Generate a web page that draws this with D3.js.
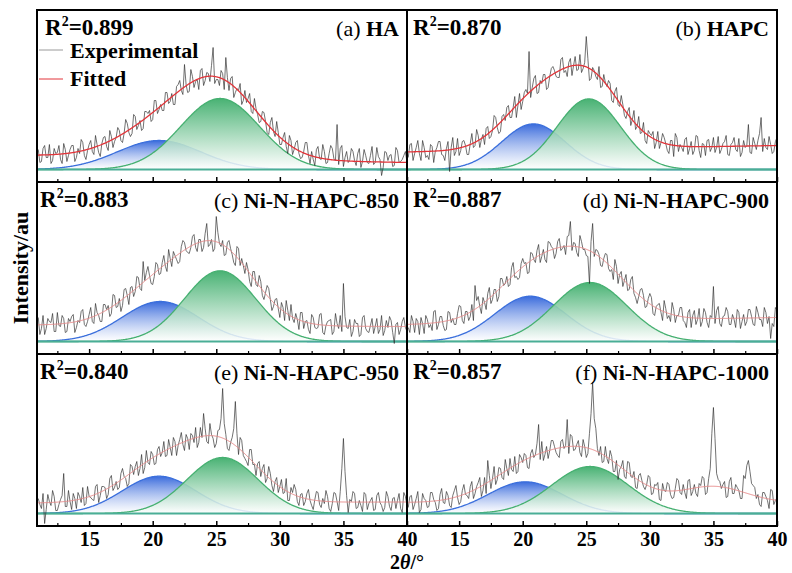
<!DOCTYPE html>
<html>
<head>
<meta charset="utf-8">
<script src="https://cdn.jsdelivr.net/npm/d3@7"></script>
<style>
  body { margin: 0; background: #fff; }
  svg text { font-family: "Liberation Serif", "Times New Roman", serif; font-weight: bold; fill: #000; }
</style>
</head>
<body>
<div id="viz"></div>
<script>
// panel labels
const panelLetters = ["a", "b", "c", "d", "e", "f"];
const sampleNames = ["HA", "HAPC", "Ni-N-HAPC-850", "Ni-N-HAPC-900", "Ni-N-HAPC-950", "Ni-N-HAPC-1000"];
const rSquared = ["0.899", "0.870", "0.883", "0.887", "0.840", "0.857"];

// x axis (the 10.9 end of the right column is unlabelled)
const xTicks = [15, 20, 25, 30, 35, 40];
const xMinorTicks = [12.5, 17.5, 22.5, 27.5, 32.5, 37.5];

// experimental patterns (a.u.): main points at 2theta = 11 + 0.25*k,
// half points in between at 11.125 + 0.25*k
const thetaStart = 11, thetaStep = 0.25;
const expHA = [20,8,24,12,6,21,17,10,26,8, 20,24,12,16,27,10,25,18,34,17, 26,33,19,33,28,42,29,36,46,33,
  55,40,49,41,58,59,50,69,60,59, 77,66,76,65,85,79,105,77,100,82, 90,99,84,97,88,122,90,84,96,112,
  79,93,77,79,65,79,71,58,71,55, 48,57,37,47,38,48,25,32,23,34, 15,27,16,12,27,14,18,4,23,10,
  18,7,24,11,45,21,3,18,10,18, 4,21,8,14,6,23,7,13,-6,18, 9,15,4,19,8,14,7];
const expHAHalf = [7,21,12,25,9,16,24,6,20,14, 24,8,21,30,14,19,29,15,25,13, 32,23,39,22,32,39,27,50,37,36,
  53,44,39,58,56,48,69,56,65,59, 77,68,65,83,89,75,85,78,93,88, 80,101,89,96,104,86,90,99,80,92,
  91,72,81,86,69,67,76,56,61,47, 58,48,35,52,33,37,25,37,16,29, 20,29,11,18,27,6,10,20,11,25,
  6,16,21,9,5,24,12,7,21,9, 16,2,20,7,14,5,22,10,2,17, 14,3,22,7,10,18];
const expHAPC = [12,26,16,29,9,22,14,25,7,22, 28,14,21,-2,32,18,14,28,24,15, 36,24,34,30,25,43,33,54,42,38,
  55,62,52,62,52,76,68,80,118,82, 94,77,86,95,82,101,99,92,110,97, 93,111,104,99,115,101,133,89,102,93,
  103,83,87,89,69,78,65,74,54,58, 44,59,43,36,47,26,36,38,27,21, 36,26,16,29,36,18,22,30,15,28,
  19,33,12,25,29,18,32,22,16,26, 34,14,27,20,31,17,22,45,16,26, 29,52,31,20,25,18,32];
const expHAPCHalf = [25,9,22,16,29,12,10,23,18,28, 15,9,28,22,14,31,19,29,15,26, 22,40,22,35,41,31,39,52,36,53,
  49,64,52,73,64,60,77,76,72,91, 76,89,95,80,93,103,93,92,112,99, 107,94,113,100,97,107,111,91,99,90,
  82,95,83,86,67,82,63,65,51,62, 50,40,53,37,29,39,34,21,38,27, 32,19,29,13,32,25,18,32,21,15,
  34,19,26,14,30,22,17,33,20,28, 15,25,32,18,13,29,24,17,32,20, 36,18,22,33,16,28];
const exp850 = [24,13,7,23,19,10,29,15,23,10, 20,27,14,19,32,15,27,20,38,26, 20,37,36,28,46,35,30,52,46,54,
  45,65,53,80,69,66,57,79,67,79, 75,92,75,86,78,95,99,89,94,107, 90,102,94,118,97,90,125,98,101,87,
  101,87,76,93,83,68,72,55,70,55, 60,42,56,42,35,43,24,34,41,21, 23,28,12,29,20,12,27,14,14,28,
  7,20,22,10,18,26,58,14,22,10, 18,5,24,13,9,23,15,8,26,11, 14,21,-2,19,12,24,10];
const exp850Half = [7,26,13,20,28,10,16,26,9,23, 25,9,21,30,17,20,34,18,29,20, 37,32,25,47,34,43,36,53,37,55,
  50,64,51,61,75,58,65,77,68,86, 70,83,90,82,80,101,91,88,105,94, 102,90,108,95,102,93,109,95,86,99,
  93,79,95,76,76,79,60,70,57,66, 46,49,53,31,42,33,39,21,31,37, 19,22,29,13,21,8,24,13,27,9,
  16,21,7,28,13,10,25,13,5,22, 18,7,26,10,16,8,23,12,6,21, 25,9,17,7,20,14];
const exp900 = [14,26,9,20,24,8,22,17,30,12, 25,16,12,29,23,17,36,21,30,21, 37,56,45,28,39,48,38,52,40,63,
  56,65,57,79,65,64,83,79,69,88, 79,97,85,82,100,95,83,100,91,96, 105,120,99,89,106,92,86,58,118,92,
  87,75,88,73,72,82,58,70,61,51, 62,48,38,52,46,35,48,28,35,38, 21,33,26,39,19,26,34,19,29,14,
  31,22,15,33,19,26,55,31,18,25, 34,17,27,14,29,20,16,32,25,16, 29,22,34,18,3,15,31];
const exp900Half = [9,20,23,7,18,26,14,11,31,17, 25,11,30,19,17,28,35,18,30,25, 21,41,35,44,32,54,42,52,45,63,
  58,55,74,64,62,78,78,68,89,82, 91,79,92,79,99,93,88,103,93,87, 106,91,98,85,100,92,85,100,85,91,
  76,83,87,70,62,75,67,55,67,52, 65,44,45,53,34,43,44,26,37,29, 41,23,20,32,26,34,21,14,32,26,
  17,33,20,29,14,24,18,35,15,26, 30,17,22,32,13,27,20,32,17,35, 22,15,29,25,18,34];
const exp950 = [15,5,-10,19,8,17,3,14,40,7, 12,20,5,17,26,10,17,14,27,11, 27,26,19,38,26,24,40,37,27,49,
  39,52,45,40,63,49,59,50,67,61, 57,74,58,72,68,81,63,75,80,71, 66,86,100,72,90,75,70,84,125,79,
  63,76,112,59,73,55,48,64,49,50, 37,49,35,40,22,36,27,20,35,13, 21,24,8,20,12,24,8,14,21,6,
  10,17,2,21,12,22,75,18,14,22, 5,13,2,19,10,16,4,21,8,6, 17,3,16,13,5,21,8];
const exp950Half = [9,20,4,12,23,3,9,18,7,23, 4,15,21,11,8,27,16,13,29,18, 27,15,35,23,32,26,45,35,30,47,
  47,38,59,46,51,62,49,64,57,72, 58,66,76,58,74,69,79,64,78,86, 71,76,85,70,79,66,83,95,90,65,
  71,85,80,76,58,52,64,49,38,52, 45,31,47,28,32,21,34,21,13,26, 29,12,19,8,20,13,4,22,9,15,
  23,5,10,20,3,45,42,1,12,20, 6,8,21,4,13,3,18,11,2,22, 7,15,5,20,1,17];
const exp1000 = [6,18,9,22,4,15,6,21,14,3, 19,11,22,8,18,28,9,23,19,15, 32,20,31,17,36,53,25,47,34,45,
  34,45,55,42,40,59,51,58,45,64, 59,89,72,59,55,73,67,58,72,65, 94,79,63,69,61,74,56,80,131,85,
  58,51,67,50,57,42,34,47,37,52, 37,42,25,40,27,29,36,20,28,14, 30,22,29,15,25,33,19,21,33,18,
  29,17,28,35,21,45,106,40,32,29, 16,32,20,29,23,15,35,53,30,26, 19,7,21,13,24,9,16];
const exp1000Half = [17,4,15,1,20,13,7,21,11,5, 25,10,18,6,23,16,12,29,18,27, 15,27,36,23,20,38,35,29,46,36,
  54,38,44,57,42,56,60,46,60,56, 70,54,53,67,63,73,61,56,74,68, 60,77,64,73,57,67,60,100,95,65,
  67,52,55,63,42,53,44,53,35,51, 36,26,38,33,24,38,19,29,31,13, 23,31,19,16,35,21,29,15,34,22,
  20,30,37,19,35,80,75,34,25,32, 17,36,20,26,15,38,48,42,28,15, 9,21,17,5,23,13];
const experimental = [expHA, expHAPC, exp850, exp900, exp950, exp1000];
const experimentalHalf = [expHAHalf, expHAPCHalf, exp850Half, exp900Half, exp950Half, exp1000Half];

// fitted peaks [centre, height, sigma]
const bluePeaks  = [[20.5, 29, 3.3], [20.85, 45.6, 2.5], [20.6, 40, 3.0], [20.6, 45.3, 2.8], [20.5, 37.3, 2.9], [20.2, 31.7, 2.9]];
const greenPeaks = [[25.3, 71, 3.1], [25.2, 70.6, 2.5], [25.3, 70.7, 2.8], [25.3, 59, 2.9], [25.5, 56, 2.8], [25.3, 47, 3.0]];
const extraPeaks = [[], [], [], [], [], [[35.0, 16, 2.5]]];
// linear background [at 11, at 40]
const backgrounds = [[14, 7], [17.6, 24], [16.5, 15], [17, 24], [10.5, 11.5], [11, 11]];

const W = 792, H = 573;
const margin = {left: 37, top: 10},
      panelW = 370, panelH = 172;
const serif = '"Liberation Serif", "Times New Roman", serif';

const svg = d3.select("#viz").append("svg")
    .attr("width", W).attr("height", H);

const x = d3.scaleLinear().domain([10.9, 40]).range([0, panelW]);
const y = d3.scaleLinear().domain([-12.5, 159.5]).range([panelH, 0]);

const defs = svg.append("defs");
function vGrad(id, top, topOp, bottomOp) {
  const g = defs.append("linearGradient").attr("id", id)
    .attr("x1", 0).attr("y1", 0).attr("x2", 0).attr("y2", 1);
  g.append("stop").attr("offset", "0%").attr("stop-color", top).attr("stop-opacity", topOp);
  g.append("stop").attr("offset", "100%").attr("stop-color", "#ffffff").attr("stop-opacity", bottomOp);
}
vGrad("blueGrad", "#3a6bdc", 1, 0.6);
vGrad("greenGrad", "#3fae6c", 0.95, 0.85);

const gauss = (t, p) => p[1] * Math.exp(-((t - p[0]) ** 2) / (2 * p[2] * p[2]));
const thetaFine = d3.range(10.9, 40.0001, 0.05);

const line = d3.line().x(d => x(d[0])).y(d => y(d[1]));
const area = d3.area().x(d => x(d[0])).y0(y(0)).y1(d => y(d[1]));

panelLetters.forEach((letter, i) => {
  const col = i % 2, row = Math.floor(i / 2);
  const g = svg.append("g")
    .attr("transform", `translate(${margin.left + col * panelW},${margin.top + row * panelH})`);

  defs.append("clipPath").attr("id", "clip" + i)
    .append("rect").attr("width", panelW).attr("height", panelH);
  const plot = g.append("g").attr("clip-path", `url(#clip${i})`);

  const bg = backgrounds[i];
  const bgAt = t => bg[0] + (bg[1] - bg[0]) * (t - 11) / 29;
  const blue = thetaFine.map(t => [t, gauss(t, bluePeaks[i])]);
  const green = thetaFine.map(t => [t, gauss(t, greenPeaks[i])]);
  const fit = thetaFine.map(t => [t,
    bgAt(t) + gauss(t, bluePeaks[i]) + gauss(t, greenPeaks[i]) +
    d3.sum(extraPeaks[i], p => gauss(t, p))]);

  // interleave main and half points
  const half = experimentalHalf[i];
  const expPts = d3.merge(experimental[i].map((v, k) => {
    const t = thetaStart + k * thetaStep;
    return k < half.length ? [[t, v], [t + thetaStep / 2, half[k]]] : [[t, v]];
  }));

  plot.append("path").attr("d", area(blue)).attr("fill", "url(#blueGrad)");
  plot.append("path").attr("d", line(blue)).attr("fill", "none")
    .attr("stroke", "#3b6fdc").attr("stroke-width", 1.3);
  plot.append("path").attr("d", area(green)).attr("fill", "url(#greenGrad)");
  plot.append("path").attr("d", line(green)).attr("fill", "none")
    .attr("stroke", "#46b071").attr("stroke-width", 1.3);

  // zero line
  plot.append("line")
    .attr("x1", 0).attr("x2", panelW).attr("y1", y(0)).attr("y2", y(0))
    .attr("stroke", "#4aae96").attr("stroke-width", 2);

  plot.append("path").attr("d", line(expPts)).attr("fill", "none")
    .attr("stroke", "#2e2e2e").attr("stroke-width", 0.75).attr("stroke-opacity", 0.9);

  plot.append("path").attr("d", line(fit)).attr("fill", "none")
    .attr("stroke", i < 2 ? "#e2353a" : "#e88a8a")
    .attr("stroke-width", i < 2 ? 1.3 : 1);

  // ticks on bottom edge, pointing inward
  const ax = g.append("g").attr("transform", `translate(0,${panelH})`)
    .call(d3.axisBottom(x).tickValues(xTicks).tickSizeInner(-5).tickSizeOuter(0)
      .tickFormat(row === 2 ? d3.format("d") : ""));
  ax.select(".domain").remove();
  ax.selectAll(".tick line").attr("stroke", "#000").attr("stroke-width", 1.5);
  ax.selectAll(".tick text")
    .attr("y", 20).attr("dy", 0)
    .style("font-family", serif).style("font-size", "20px").style("font-weight", "bold");

  const mx = g.append("g").attr("transform", `translate(0,${panelH})`)
    .call(d3.axisBottom(x).tickValues(xMinorTicks).tickSizeInner(-3).tickSizeOuter(0).tickFormat(""));
  mx.select(".domain").remove();
  mx.selectAll(".tick line").attr("stroke", "#000").attr("stroke-width", 1.2);

  // R^2
  const rx = col === 1 ? 6 : (i === 0 ? 8 : 3);
  const rt = g.append("text").attr("x", rx).attr("y", 25).attr("font-size", 23);
  rt.append("tspan").text("R");
  rt.append("tspan").attr("font-size", 14).attr("dy", -9).text("2");
  rt.append("tspan").attr("dy", 9).text("=" + rSquared[i]);

  // sample label
  const st = g.append("text").attr("x", panelW - 8).attr("y", 26)
    .attr("font-size", 22).attr("text-anchor", "end");
  st.append("tspan").attr("font-weight", "normal").text(`(${letter}) `);
  st.append("tspan").text(sampleNames[i]);

  // legend in first panel
  if (i === 0) {
    const leg = [["Experimental", "#9a9a9a", 40, 48], ["Fitted", "#e2353a", 69, 76]];
    leg.forEach(([name, colr, ly, ty]) => {
      g.append("line").attr("x1", 2).attr("x2", 26).attr("y1", ly).attr("y2", ly)
        .attr("stroke", colr).attr("stroke-width", 1);
      g.append("text").attr("x", 33).attr("y", ty).attr("font-size", 22).text(name);
    });
  }

  g.append("rect").attr("width", panelW).attr("height", panelH)
    .attr("fill", "none").attr("stroke", "#000").attr("stroke-width", 2);
});

// axis titles
const xt = svg.append("text")
  .attr("x", margin.left + panelW).attr("y", 568.5)
  .attr("text-anchor", "middle").attr("font-size", 20);
xt.append("tspan").text("2");
xt.append("tspan").attr("font-style", "italic").text("θ");
xt.append("tspan").text("/°");

svg.append("text")
  .attr("transform", `translate(28,${margin.top + panelH * 1.5}) rotate(-90)`)
  .attr("text-anchor", "middle").attr("font-size", 22)
  .text("Intensity/au");
</script>
</body>
</html>
